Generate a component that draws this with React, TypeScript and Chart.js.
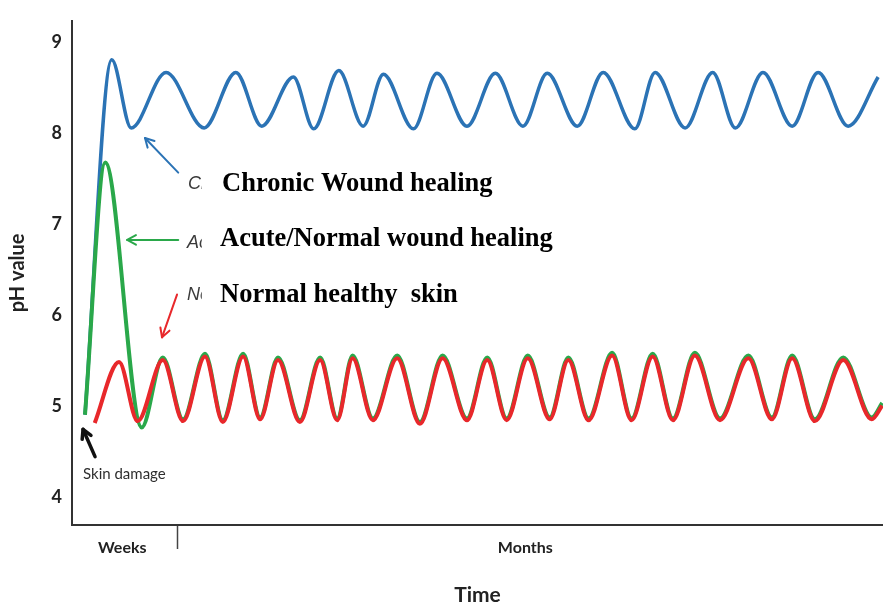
import { useEffect, useRef } from "react";
import { Chart, registerables } from "chart.js";

Chart.register(...registerables);

// ---------- data ----------
const yTickValues = [4, 5, 6, 7, 8, 9];
const xTickLabels = ["Weeks", "Months"];
const xTickValues = [6.2, 55.9];
const phaseBoundary = 13.07;

const chronicT = [1.6, 4.9, 7.3, 11.6, 16.3, 20.2, 23.4, 27.3, 29.8, 32.9, 35.9, 38.4, 42.1, 45.0, 48.7, 52.2, 55.6, 58.6, 62.3, 65.5, 69.4, 71.9, 75.6, 79.0, 81.8, 85.2, 88.8, 92.0, 95.7, 99.4];
const chronicPH = [4.91, 8.81, 8.06, 8.67, 8.06, 8.67, 8.08, 8.62, 8.05, 8.69, 8.08, 8.65, 8.05, 8.66, 8.08, 8.66, 8.08, 8.66, 8.08, 8.67, 8.05, 8.67, 8.06, 8.67, 8.06, 8.67, 8.08, 8.67, 8.08, 8.62];

const acuteT = [1.6, 4.1, 8.6, 11.2, 13.7, 16.4, 18.6, 21.1, 23.2, 25.4, 28.1, 30.6, 32.7, 34.6, 37.1, 40.1, 42.9, 45.7, 48.7, 51.2, 53.6, 56.2, 58.9, 61.2, 63.7, 66.6, 69.0, 71.6, 74.1, 76.8, 79.9, 83.4, 86.3, 88.8, 91.6, 95.1, 98.6, 99.9];
const acutePH = [4.91, 7.68, 4.77, 5.54, 4.86, 5.58, 4.85, 5.58, 4.88, 5.54, 4.85, 5.54, 4.87, 5.56, 4.87, 5.56, 4.83, 5.56, 4.87, 5.54, 4.87, 5.56, 4.88, 5.54, 4.87, 5.59, 4.87, 5.58, 4.87, 5.59, 4.87, 5.56, 4.88, 5.56, 4.86, 5.54, 4.88, 5.04];

const normalT = [2.8, 5.8, 8.1, 11.2, 13.7, 16.4, 18.6, 21.1, 23.2, 25.4, 28.1, 30.6, 32.7, 34.6, 37.1, 40.1, 42.9, 45.7, 48.7, 51.2, 53.6, 56.2, 58.9, 61.2, 63.7, 66.6, 69.0, 71.6, 74.1, 76.8, 79.9, 83.4, 86.3, 88.8, 91.6, 95.1, 98.6, 99.9];
const normalPH = [4.82, 5.49, 4.84, 5.51, 4.84, 5.55, 4.83, 5.55, 4.86, 5.51, 4.83, 5.51, 4.85, 5.53, 4.85, 5.53, 4.81, 5.53, 4.85, 5.51, 4.85, 5.53, 4.86, 5.51, 4.85, 5.56, 4.85, 5.55, 4.85, 5.56, 4.85, 5.53, 4.86, 5.53, 4.84, 5.51, 4.86, 5.01];

const seriesLabels = ["Chronic Wound healing", "Acute/Normal wound healing", "Normal healthy  skin"];
const hiddenLabels = ["Chronic", "Acute", "Normal"];
const skinLabel = "Skin damage";

// ---------- annotation placement (data coordinates) ----------
const BLUE = "#2b73b5";
const GREEN = "#2aa84a";
const RED = "#e8282b";

const arrows = [
  { from: [13.1, 7.57], to: [9.0, 7.95], color: BLUE, width: 2, head: 10 },
  { from: [13.1, 6.83], to: [6.8, 6.83], color: GREEN, width: 2, head: 10 },
  { from: [12.95, 6.23], to: [11.1, 5.76], color: RED, width: 2, head: 10 },
  { from: [2.84, 4.45], to: [1.36, 4.75], color: "#111111", width: 3.5, head: 10 },
];
const hiddenPos = [
  { t: 14.3, v: 7.387 },
  { t: 14.18, v: 6.742 },
  { t: 14.18, v: 6.172 },
];
const hiddenClipT = 16.0;
const labelPos = [
  { t: 18.5, v: 7.366 },
  { t: 18.25, v: 6.763 },
  { t: 18.25, v: 6.15 },
];
const skinPos = { t: 1.36, v: 4.204 };

const toPoints = (ts: number[], vs: number[]) => ts.map((t, i) => ({ x: t, y: vs[i] }));

const annotationPlugin = {
  id: "annotations",
  afterDatasetsDraw(chart: any) {
    const { ctx } = chart;
    const xs = chart.scales.x;
    const ys = chart.scales.y;
    const px = (t: number) => xs.getPixelForValue(t);
    const py = (v: number) => ys.getPixelForValue(v);
    ctx.save();
    arrows.forEach((a) => {
      const x1 = px(a.from[0]), y1 = py(a.from[1]);
      const x2 = px(a.to[0]), y2 = py(a.to[1]);
      ctx.strokeStyle = a.color;
      ctx.lineWidth = a.width;
      ctx.lineCap = "round";
      ctx.lineJoin = "round";
      ctx.beginPath();
      ctx.moveTo(x1, y1);
      ctx.lineTo(x2, y2);
      ctx.stroke();
      const ang = Math.atan2(y2 - y1, x2 - x1);
      ctx.beginPath();
      ctx.moveTo(x2 - a.head * Math.cos(ang - 0.5), y2 - a.head * Math.sin(ang - 0.5));
      ctx.lineTo(x2, y2);
      ctx.lineTo(x2 - a.head * Math.cos(ang + 0.5), y2 - a.head * Math.sin(ang + 0.5));
      ctx.stroke();
    });
    // partly hidden italic labels
    ctx.save();
    ctx.beginPath();
    ctx.rect(0, 0, px(hiddenClipT), chart.height);
    ctx.clip();
    ctx.font = 'italic 18px "Liberation Sans"';
    ctx.fillStyle = "#3a3a3a";
    ctx.textBaseline = "alphabetic";
    ctx.textAlign = "left";
    hiddenLabels.forEach((s, i) => ctx.fillText(s, px(hiddenPos[i].t), py(hiddenPos[i].v)));
    ctx.restore();
    // bold labels
    ctx.font = 'bold 26.5px "Liberation Serif"';
    ctx.fillStyle = "#000000";
    ctx.textBaseline = "alphabetic";
    ctx.textAlign = "left";
    seriesLabels.forEach((s, i) => ctx.fillText(s, px(labelPos[i].t), py(labelPos[i].v)));
    // skin damage
    ctx.font = '15px Lato';
    ctx.fillStyle = "#2e2e2e";
    ctx.fillText(skinLabel, px(skinPos.t), py(skinPos.v));
    ctx.restore();
  },
};

export default function App() {
  const ref = useRef<HTMLCanvasElement | null>(null);
  useEffect(() => {
    document.body.style.margin = "0";
    const canvas = ref.current;
    if (!canvas) return;
    const chart = new Chart(canvas, {
      type: "line",
      data: {
        datasets: [
          {
            label: seriesLabels[2],
            data: toPoints(normalT, normalPH),
            borderColor: RED,
            borderWidth: 4,
            cubicInterpolationMode: "monotone",
            pointRadius: 0,
            order: 0,
          },
          {
            label: seriesLabels[1],
            data: toPoints(acuteT, acutePH),
            borderColor: GREEN,
            borderWidth: 4,
            cubicInterpolationMode: "monotone",
            pointRadius: 0,
            order: 1,
          },
          {
            label: seriesLabels[0],
            data: toPoints(chronicT, chronicPH),
            borderColor: BLUE,
            borderWidth: 3.5,
            cubicInterpolationMode: "monotone",
            pointRadius: 0,
            order: 2,
          },
        ],
      },
      options: {
        responsive: false,
        animation: false,
        devicePixelRatio: 1,
        layout: { padding: { top: 10, right: 0, left: 0, bottom: 0 } },
        plugins: { legend: { display: false }, tooltip: { enabled: false } },
        scales: {
          x: {
            type: "linear",
            min: 0,
            max: 100,
            afterFit: (s: any) => {
              s.height = 84;
            },
            afterBuildTicks: (s: any) => {
              s.ticks = [
                { value: xTickValues[0] },
                { value: phaseBoundary },
                { value: xTickValues[1] },
              ];
            },
            ticks: {
              autoSkip: false,
              maxRotation: 0,
              padding: -11,
              color: "#222222",
              font: { family: "Lato", weight: "bold", size: 16 },
              callback: (v: any) => {
                const i = xTickValues.indexOf(v);
                return i >= 0 ? xTickLabels[i] : "";
              },
            },
            grid: {
              display: true,
              drawOnChartArea: false,
              drawTicks: true,
              tickLength: 24,
              tickWidth: 1.5,
              tickColor: (c: any) => (c.tick && c.tick.value === phaseBoundary ? "#444444" : "rgba(0,0,0,0)"),
            },
            border: { display: true, color: "#333333", width: 2 },
            title: {
              display: true,
              text: "Time",
              color: "#222222",
              font: { family: "Lato", weight: "bold", size: 21 },
              padding: { top: 0, bottom: 1 },
            },
          },
          y: {
            type: "linear",
            min: 3.699,
            max: 9.237,
            afterFit: (s: any) => {
              s.width = 72;
            },
            afterBuildTicks: (s: any) => {
              s.ticks = yTickValues.map((v) => ({ value: v }));
            },
            ticks: {
              padding: 10,
              color: "#222222",
              font: { family: "Lato", weight: "bold", size: 18 },
            },
            grid: { display: false, drawTicks: false },
            border: { display: true, color: "#333333", width: 2 },
            title: {
              display: true,
              text: "pH value",
              color: "#222222",
              font: { family: "Lato", weight: "bold", size: 20 },
              padding: { top: 6, bottom: 0 },
            },
          },
        },
      } as any,
      plugins: [annotationPlugin],
    });
    return () => chart.destroy();
  }, []);
  return (
    <div style={{ width: 883, height: 609, background: "#ffffff" }}>
      <canvas ref={ref} width={883} height={609} style={{ display: "block" }} />
    </div>
  );
}
